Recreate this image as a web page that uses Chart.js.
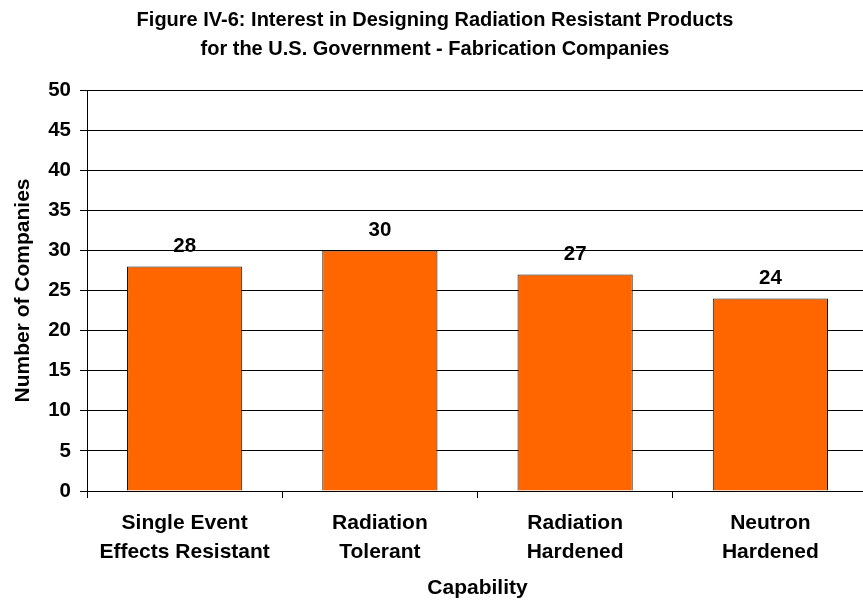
<!DOCTYPE html>
<html>
<head>
<meta charset="utf-8">
<script src="https://cdn.jsdelivr.net/npm/chart.js@4"></script>
<style>
html,body{margin:0;padding:0;background:#fff;overflow:hidden;}
#wrap{width:868px;height:602px;position:relative;}
</style>
</head>
<body>
<div id="wrap"><canvas id="c"></canvas></div>
<script>
const titleLines = ["Figure IV-6: Interest in Designing Radiation Resistant Products", "for the U.S. Government - Fabrication Companies"];
const categories = [["Single Event", "Effects Resistant"], ["Radiation", "Tolerant"], ["Radiation", "Hardened"], ["Neutron", "Hardened"]];
const companies = [28, 30, 27, 24];
const yTitle = "Number of Companies";
const xTitle = "Capability";
const yMin = 0, yMax = 50, yStep = 5;

const FONT = "'Liberation Sans', Arial, sans-serif";

const valueLabels = {
  id: 'valueLabels',
  afterDatasetsDraw(chart) {
    const ctx = chart.ctx;
    const meta = chart.getDatasetMeta(0);
    ctx.save();
    ctx.font = "bold 20.5px " + FONT;
    ctx.fillStyle = '#000';
    ctx.textAlign = 'center';
    ctx.textBaseline = 'middle';
    meta.data.forEach((bar, i) => {
      ctx.fillText(String(chart.data.datasets[0].data[i]), bar.x, bar.y - 20);
    });
    ctx.restore();
  }
};

new Chart(document.getElementById('c'), {
  type: 'bar',
  data: {
    labels: categories,
    datasets: [{
      data: companies,
      backgroundColor: '#FF6600',
      borderColor: '#111111',
      borderWidth: 1,
      barPercentage: 0.59,
      categoryPercentage: 1.0
    }]
  },
  options: {
    responsive: true,
    maintainAspectRatio: false,
    animation: false,
    layout: { padding: { left: 2, right: 0, top: 0, bottom: 0 } },
    plugins: {
      legend: { display: false },
      tooltip: { enabled: false },
      title: {
        display: true,
        text: titleLines,
        color: '#000',
        font: { family: FONT, size: 20, weight: 'bold', lineHeight: 1.45 },
        padding: { top: 6, bottom: 26 }
      }
    },
    scales: {
      x: {
        grid: { display: true, drawOnChartArea: false, drawTicks: true, tickLength: 7, color: '#000', offset: true },
        border: { display: true, color: '#000', width: 1 },
        ticks: { color: '#000', font: { family: FONT, size: 21, weight: 'bold', lineHeight: 1.38 }, padding: 11, maxRotation: 0, autoSkip: false },
        title: { display: true, text: xTitle, color: '#000', font: { family: FONT, size: 21, weight: 'bold' }, padding: { top: 0, bottom: 1 } },
        afterFit(scale) { scale.height = 111; }
      },
      y: {
        min: yMin, max: yMax,
        grid: { color: '#000', lineWidth: 1, tickLength: 7, drawTicks: true },
        border: { display: true, color: '#000', width: 1 },
        ticks: { stepSize: yStep, color: '#000', font: { family: FONT, size: 20.5, weight: 'bold' }, padding: 9 },
        title: { display: true, text: yTitle, color: '#000', font: { family: FONT, size: 21, weight: 'bold' }, padding: { top: 9, bottom: 0 } },
        afterFit(scale) { scale.width = 85; }
      }
    }
  },
  plugins: [valueLabels]
});
</script>
</body>
</html>
